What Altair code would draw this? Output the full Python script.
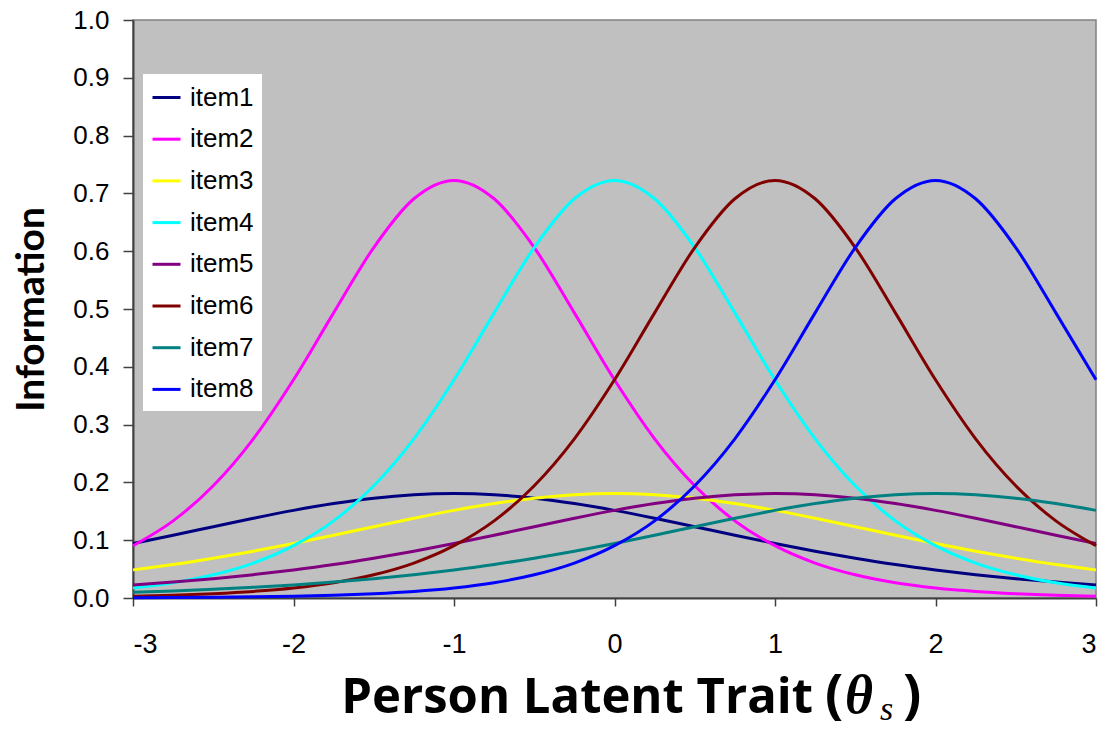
import altair as alt
import pandas as pd

theta = [-3.0, -2.75, -2.5, -2.25, -2.0, -1.75, -1.5, -1.25, -1.0, -0.75, -0.5, -0.25, 0.0,
         0.25, 0.5, 0.75, 1.0, 1.25, 1.5, 1.75, 2.0, 2.25, 2.5, 2.75, 3.0]

item1 = [0.0944, 0.1086, 0.1233, 0.1379, 0.1516, 0.1634, 0.1727, 0.1786, 0.1806, 0.1786, 0.1727, 0.1634, 0.1516,
         0.1379, 0.1233, 0.1086, 0.0944, 0.0810, 0.0689, 0.0580, 0.0486, 0.0404, 0.0334, 0.0275, 0.0226]
item2 = [0.0905, 0.1335, 0.1942, 0.2754, 0.3775, 0.4933, 0.6063, 0.6907, 0.7225, 0.6907, 0.6063, 0.4933, 0.3775,
         0.2754, 0.1942, 0.1335, 0.0905, 0.0604, 0.0401, 0.0264, 0.0174, 0.0114, 0.0075, 0.0049, 0.0032]
item3 = [0.0486, 0.0580, 0.0689, 0.0810, 0.0944, 0.1086, 0.1233, 0.1379, 0.1516, 0.1634, 0.1727, 0.1786, 0.1806,
         0.1786, 0.1727, 0.1634, 0.1516, 0.1379, 0.1233, 0.1086, 0.0944, 0.0810, 0.0689, 0.0580, 0.0486]
item4 = [0.0174, 0.0264, 0.0401, 0.0604, 0.0905, 0.1335, 0.1942, 0.2754, 0.3775, 0.4933, 0.6063, 0.6907, 0.7225,
         0.6907, 0.6063, 0.4933, 0.3775, 0.2754, 0.1942, 0.1335, 0.0905, 0.0604, 0.0401, 0.0264, 0.0174]
item5 = [0.0226, 0.0275, 0.0334, 0.0404, 0.0486, 0.0580, 0.0689, 0.0810, 0.0944, 0.1086, 0.1233, 0.1379, 0.1516,
         0.1634, 0.1727, 0.1786, 0.1806, 0.1786, 0.1727, 0.1634, 0.1516, 0.1379, 0.1233, 0.1086, 0.0944]
item6 = [0.0032, 0.0049, 0.0075, 0.0114, 0.0174, 0.0264, 0.0401, 0.0604, 0.0905, 0.1335, 0.1942, 0.2754, 0.3775,
         0.4933, 0.6063, 0.6907, 0.7225, 0.6907, 0.6063, 0.4933, 0.3775, 0.2754, 0.1942, 0.1335, 0.0905]
item7 = [0.0100, 0.0123, 0.0151, 0.0185, 0.0226, 0.0275, 0.0334, 0.0404, 0.0486, 0.0580, 0.0689, 0.0810, 0.0944,
         0.1086, 0.1233, 0.1379, 0.1516, 0.1634, 0.1727, 0.1786, 0.1806, 0.1786, 0.1727, 0.1634, 0.1516]
item8 = [0.0006, 0.0009, 0.0014, 0.0021, 0.0032, 0.0049, 0.0075, 0.0114, 0.0174, 0.0264, 0.0401, 0.0604, 0.0905,
         0.1335, 0.1942, 0.2754, 0.3775, 0.4933, 0.6063, 0.6907, 0.7225, 0.6907, 0.6063, 0.4933, 0.3775]

item_names = ["item1", "item2", "item3", "item4", "item5", "item6", "item7", "item8"]
item_colors = ["#000080", "#FF00FF", "#FFFF00", "#00FFFF", "#800080", "#800000", "#008080", "#0000FF"]
series = [item1, item2, item3, item4, item5, item6, item7, item8]

x_ticks = [-3, -2, -1, 0, 1, 2, 3]
y_ticks = [0.0, 0.1, 0.2, 0.3, 0.4, 0.5, 0.6, 0.7, 0.8, 0.9, 1.0]

rows = []
for name, vals in zip(item_names, series):
    for t, v in zip(theta, vals):
        rows.append({"theta": t, "item": name, "info": v})
df = pd.DataFrame(rows)

lines = alt.Chart(df).mark_line(strokeWidth=3, interpolate="monotone").encode(
    x=alt.X("theta:Q",
            scale=alt.Scale(domain=[-3, 3], nice=False, zero=False),
            axis=alt.Axis(values=x_ticks, title=None, grid=False,
                          labelExpr="datum.value < 0 ? '-' + abs(datum.value) : '' + datum.value",
                          labelFont="Liberation Sans", labelFontSize=27, labelColor="#000000",
                          labelPadding=25, labelBaseline="top", tickSize=8, tickColor="#404040",
                          tickWidth=1.5, domainColor="#404040", domainWidth=2)),
    y=alt.Y("info:Q",
            scale=alt.Scale(domain=[0, 1], nice=False),
            axis=alt.Axis(values=y_ticks, format=".1f", title="Information", grid=False,
                          labelFont="Liberation Sans", labelFontSize=26, labelColor="#000000",
                          labelPadding=14, tickSize=10, tickColor="#404040", tickWidth=1.5,
                          domainColor="#404040", domainWidth=2,
                          titleFont="Lato", titleFontSize=39, titleFontWeight="bold",
                          titleColor="#000000", titleAngle=-90, titleX=-90, titleY=289,
                          titleAlign="center", titleBaseline="alphabetic")),
    color=alt.Color("item:N",
                    scale=alt.Scale(domain=item_names, range=item_colors),
                    legend=alt.Legend(title=None, orient="none", legendX=10, legendY=54,
                                      fillColor="#FFFFFF", padding=8,
                                      symbolType="stroke", symbolSize=784, symbolStrokeWidth=3,
                                      labelFont="Liberation Sans", labelFontSize=26,
                                      labelColor="#000000", labelOffset=8, rowPadding=12.7)),
)

one = pd.DataFrame({"k": [0]})


def txt(text, x, y, size, font, weight="normal", style="normal", align="left"):
    return alt.Chart(one).mark_text(
        text=text, font=font, fontSize=size, fontWeight=weight, fontStyle=style,
        align=align, baseline="alphabetic", color="#000000"
    ).encode(x=alt.value(x), y=alt.value(y))


title_parts = [
    txt("Person Latent Trait", 680, 693, 49, "Open Sans", weight="bold", align="right"),
    txt("(", 692, 693, 54, "Open Sans", weight="bold"),
    txt("\u03b8", 712, 693, 54, "Liberation Serif", weight="bold", style="italic"),
    txt("s", 747, 700, 34, "Liberation Serif", style="italic"),
    txt(")", 770, 693, 54, "Open Sans", weight="bold"),
]

chart = alt.layer(lines, *title_parts).properties(
    width=963, height=578,
    background="#FFFFFF",
    autosize=alt.AutoSizeParams(type="none"),
    padding={"left": 133, "top": 20, "right": 6, "bottom": 131},
).configure_view(
    fill="#C0C0C0", stroke="#808080", strokeWidth=1.5
)

chart.save("out.html", embed_options={"renderer": "svg", "actions": False})
